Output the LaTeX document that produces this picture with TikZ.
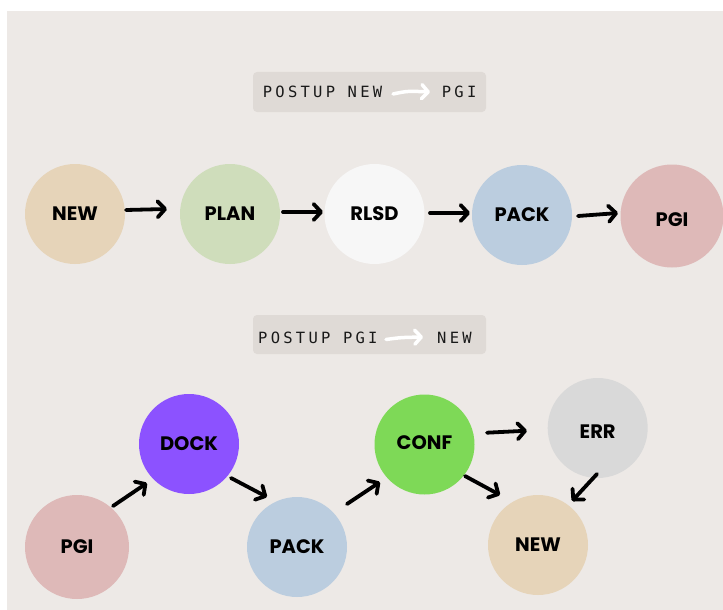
\documentclass[tikz,border=0pt]{standalone}
\usepackage{fontspec}
\newfontfamily\nodefont{Poppins}
\newfontfamily\lblfont{DejaVu Sans Mono}[LetterSpace=21]
\usetikzlibrary{arrows.meta,calc}
\definecolor{bgc}{HTML}{EDE9E6}
\definecolor{boxc}{HTML}{DFDAD6}
\definecolor{cnew}{HTML}{E6D4B9}
\definecolor{cplan}{HTML}{CFDDBB}
\definecolor{crlsd}{HTML}{F7F7F7}
\definecolor{cpack}{HTML}{BBCDDF}
\definecolor{cpgi}{HTML}{DEB9B8}
\definecolor{cdock}{HTML}{8C52FF}
\definecolor{cconf}{HTML}{7ED957}
\definecolor{cerr}{HTML}{D9D9D9}
\newcommand{\lowerlbl}[2]{\raisebox{#1}[\height][\depth]{#2}}
\tikzset{
  circ/.style={circle, minimum size=100pt, inner sep=0pt, text=black,
    font={\nodefont\bfseries\fontsize{19.5pt}{19.5pt}\selectfont}},
  flow/.style={line width=3.8pt, line cap=round, draw=black,
    -{Straight Barb[length=7.5pt,width=16pt,round]}},
  warrow/.style={line width=3.5pt, line cap=round, draw=white,
    -{Straight Barb[length=6.5pt,width=14pt,round]}},
  lblbox/.style={rounded corners=4pt, fill=boxc, minimum width=233pt, inner sep=0pt},
  lbltext/.style={anchor=west, inner sep=0pt, text=black!90,
    font={\lblfont\fontsize{15.5pt}{15.5pt}\selectfont}},
}
\begin{document}
\begin{tikzpicture}[x=1pt,y=-1pt]
\useasboundingbox (0,0) rectangle (723,610);
\fill[white] (0,0) rectangle (723,610);
\fill[bgc] (7,11) rectangle (723,610);

% label boxes
\node[lblbox, minimum height=40pt] (box1) at (369.5,92) {};
\node[lbltext] (t1a) at (262.7,92.2) {POSTUP NEW};
\node[lbltext] (t1b) at (441.7,92.2) {PGI};
\draw[warrow] ($(box1)+(23.5,2)$) .. controls ($(box1)+(38,-1)$) .. ($(box1)+(60.5,0)$);

\node[lblbox, minimum height=39pt] (box2) at (369.5,334.5) {};
\node[lbltext] (t2a) at (258,337.5) {POSTUP PGI};
\node[lbltext] (t2b) at (437,337.5) {NEW};
\draw[warrow] ($(box2)+(16.5,5)$) .. controls ($(box2)+(31,3)$) .. ($(box2)+(53.5,2.5)$);

% row 1
\node[circ, fill=cnew] (new1) at (75,214) {NEW};
\node[circ, fill=cplan] (plan) at (230,214) {PLAN};
\node[circ, fill=crlsd] (rlsd) at (374.5,214) {RLSD};
\node[circ, fill=cpack] (pack1) at (522,215) {PACK};
\node[circ, fill=cpgi, minimum size=103pt] (pgi1) at (672,216) {\lowerlbl{-4pt}{PGI}};

\draw[flow] ($(new1)+(51,-4)$) -- ($(plan)+(-63,-5)$);
\draw[flow] ($(plan)+(53,-2)$) -- ($(rlsd)+(-51.5,-2)$);
\draw[flow] ($(rlsd)+(55.5,-1)$) -- ($(pack1)+(-52,-2)$);
\draw[flow] ($(pack1)+(56,1)$) -- ($(pgi1)+(-54,-3)$);

% row 2
\node[circ, fill=cpgi, minimum size=104pt] (pgi2) at (77,547) {PGI};
\node[circ, fill=cdock] (dock) at (189,444) {DOCK};
\node[circ, fill=cpack] (pack2) at (297,547) {PACK};
\node[circ, fill=cconf] (conf) at (424.5,444.5) {\lowerlbl{1.5pt}{CONF}};
\node[circ, fill=cerr] (err) at (597.7,428) {\lowerlbl{-4pt}{ERR}};
\node[circ, fill=cnew] (new2) at (538,545) {NEW};

\draw[flow] ($(pgi2)+(36,-41)$) -- ($(dock)+(-42,39)$);
\draw[flow] ($(dock)+(42,34)$) -- ($(pack2)+(-30,-50)$);
\draw[flow] ($(pack2)+(50,-43)$) -- ($(conf)+(-44.5,37.5)$);
\draw[flow] ($(conf)+(62.5,-11.8)$) -- ($(err)+(-70.7,2.7)$);
\draw[flow] ($(conf)+(40.5,31.5)$) -- ($(new2)+(-38,-50)$);
\draw[flow] ($(err)+(-0.7,46)$) -- ($(new2)+(34,-44)$);
\end{tikzpicture}
\end{document}
